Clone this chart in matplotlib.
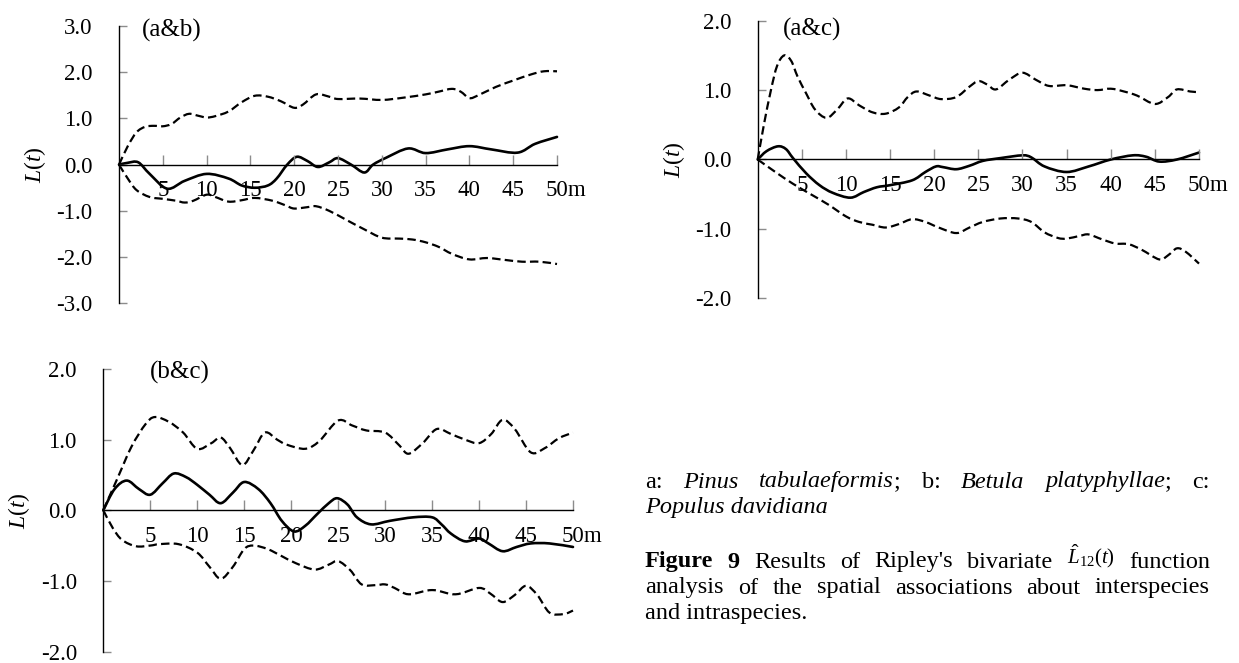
import matplotlib
matplotlib.use("Agg")
import matplotlib.pyplot as plt
from matplotlib.path import Path
from matplotlib.patches import PathPatch

plt.rcParams["font.family"] = "Liberation Serif"
plt.rcParams["mathtext.fontset"] = "custom"
plt.rcParams["mathtext.rm"] = "Liberation Serif"
plt.rcParams["mathtext.it"] = "Liberation Serif:italic"
plt.rcParams["mathtext.bf"] = "Liberation Serif:bold"
plt.rcParams["axes.unicode_minus"] = False

# ---- data ----
# (a&b)
ab_obs_x = [0, 1, 2.2, 3.5, 5.5, 7.5, 10, 12.5, 14, 15.5, 17, 18, 19.2, 20.3, 21.5, 22.7, 24, 25, 26.5, 28, 29, 30.5, 33, 35, 37.5, 40, 42.5, 45.5, 47.5, 50]
ab_obs_y = [0, 0.04, 0.05, -0.2, -0.52, -0.35, -0.2, -0.3, -0.45, -0.5, -0.45, -0.3, 0.0, 0.17, 0.08, -0.05, 0.05, 0.14, 0.0, -0.17, 0.0, 0.15, 0.35, 0.25, 0.33, 0.4, 0.33, 0.26, 0.45, 0.6]
ab_up_x = [0, 1, 2, 3, 4, 5, 6, 7, 8, 9, 10, 11, 12.5, 14, 15.5, 17, 18.5, 20, 21, 22.5, 24, 25, 27.5, 30, 32.5, 35, 36.5, 38, 39, 40, 41, 43, 45, 47, 48.5, 50]
ab_up_y = [0, 0.4, 0.7, 0.82, 0.84, 0.83, 0.88, 1.02, 1.1, 1.06, 1.02, 1.05, 1.15, 1.35, 1.49, 1.47, 1.37, 1.23, 1.3, 1.52, 1.47, 1.42, 1.43, 1.4, 1.45, 1.52, 1.58, 1.64, 1.58, 1.44, 1.5, 1.68, 1.82, 1.95, 2.02, 2.02]
ab_lo_x = [0, 1, 2, 3.5, 5, 6.5, 7.5, 8.5, 10, 11, 12.5, 14, 15.5, 17.5, 19, 20, 21.5, 22.5, 24, 26, 28, 30, 32, 33.5, 35, 36.5, 38, 40, 42, 44, 46, 48, 50]
ab_lo_y = [0, -0.3, -0.55, -0.7, -0.74, -0.78, -0.82, -0.78, -0.65, -0.7, -0.8, -0.77, -0.72, -0.78, -0.88, -0.95, -0.92, -0.9, -1.0, -1.2, -1.4, -1.58, -1.6, -1.62, -1.68, -1.78, -1.93, -2.05, -2.02, -2.06, -2.1, -2.1, -2.15]

# (a&c)
ac_obs_x = [0, 1, 2.3, 3.2, 4, 5.5, 7, 8.5, 10.5, 12, 13.5, 15, 17.5, 19, 20.2, 21, 22.5, 24, 25.5, 27.5, 30, 31, 32.5, 35, 37.5, 40, 42.5, 44, 45.5, 47.5, 50]
ac_obs_y = [0, 0.12, 0.19, 0.15, 0.02, -0.2, -0.37, -0.48, -0.55, -0.47, -0.4, -0.37, -0.3, -0.18, -0.1, -0.11, -0.14, -0.09, -0.02, 0.02, 0.06, 0.03, -0.1, -0.18, -0.1, 0.0, 0.06, 0.04, -0.03, 0.0, 0.1]
ac_up_x = [0, 0.7, 1.5, 2.2, 3, 3.8, 4.5, 5.5, 6.5, 7.8, 9, 10.2, 11.5, 13, 14.5, 16, 17, 18, 19.5, 20.8, 22.5, 24, 25, 26, 27, 28.5, 30, 31.5, 33, 35, 37, 38.5, 40, 41.5, 43, 45, 46.5, 47.5, 49, 50]
ac_up_y = [0, 0.5, 1.0, 1.35, 1.5, 1.42, 1.2, 0.95, 0.72, 0.6, 0.72, 0.88, 0.78, 0.68, 0.66, 0.75, 0.9, 0.98, 0.92, 0.87, 0.9, 1.05, 1.13, 1.08, 1.01, 1.15, 1.25, 1.15, 1.06, 1.07, 1.02, 1.0, 1.02, 0.98, 0.92, 0.8, 0.9, 1.01, 0.98, 0.97]
ac_lo_x = [0, 2, 4, 6, 8, 10, 11.5, 13, 14.5, 16, 17.5, 19, 20.5, 22.5, 24, 25.5, 27.5, 29.5, 31, 32.5, 34, 35, 36.5, 37.5, 39, 40.5, 42, 43.5, 45.5, 46.5, 47.5, 48.5, 50]
ac_lo_y = [0, -0.18, -0.35, -0.5, -0.65, -0.82, -0.9, -0.94, -0.98, -0.93, -0.86, -0.9, -0.98, -1.06, -0.98, -0.9, -0.85, -0.85, -0.9, -1.05, -1.13, -1.14, -1.1, -1.08, -1.15, -1.21, -1.22, -1.3, -1.44, -1.38, -1.28, -1.33, -1.5]

# (b&c)
bc_obs_x = [0, 1.2, 2.5, 3.8, 5, 6.3, 7.5, 8.8, 10, 11.3, 12.5, 13.8, 15, 16.5, 17.8, 19, 20.3, 21.5, 22.8, 24, 24.9, 26, 27, 28.5, 30.5, 33, 35, 36, 37, 38.5, 40, 41, 42.5, 44, 45.5, 47.5, 50]
bc_obs_y = [0, 0.3, 0.42, 0.3, 0.22, 0.38, 0.52, 0.47, 0.36, 0.22, 0.1, 0.25, 0.4, 0.3, 0.1, -0.15, -0.3, -0.22, -0.05, 0.1, 0.17, 0.08, -0.1, -0.2, -0.15, -0.1, -0.1, -0.2, -0.33, -0.44, -0.4, -0.47, -0.58, -0.52, -0.47, -0.47, -0.52]
bc_up_x = [0, 1.5, 3, 4.5, 5.5, 7, 8.5, 10, 11.5, 12.5, 13.5, 14.8, 16, 17.2, 18.5, 19.5, 21.5, 23, 25, 26.5, 28, 30, 31.5, 32.5, 34, 35.5, 37, 38.5, 40, 41.3, 42.5, 43.8, 45.5, 47, 48.5, 50]
bc_up_y = [0, 0.45, 0.9, 1.22, 1.32, 1.25, 1.1, 0.87, 0.95, 1.03, 0.88, 0.64, 0.85, 1.1, 1.0, 0.93, 0.87, 0.98, 1.27, 1.2, 1.13, 1.1, 0.92, 0.8, 0.95, 1.15, 1.08, 1.0, 0.95, 1.08, 1.28, 1.15, 0.82, 0.88, 1.02, 1.1]
bc_lo_x = [0, 1, 2, 3.5, 5, 6, 8, 10, 11.3, 12.5, 13.8, 15, 16, 17.5, 19, 20.5, 22.5, 24, 25, 26.3, 27.5, 29, 30, 31, 32.5, 35, 37.5, 40, 41.2, 42.5, 43.8, 45, 46.2, 47.5, 49, 50]
bc_lo_y = [0, -0.25, -0.42, -0.51, -0.5, -0.48, -0.48, -0.6, -0.8, -0.97, -0.8, -0.55, -0.5, -0.55, -0.65, -0.75, -0.84, -0.77, -0.72, -0.85, -1.05, -1.06, -1.05, -1.1, -1.19, -1.13, -1.19, -1.1, -1.18, -1.3, -1.2, -1.07, -1.2, -1.45, -1.47, -1.42]

x_ticks = [5, 10, 15, 20, 25, 30, 35, 40, 45, 50]

W, H = 1239, 663
fig = plt.figure(figsize=(W / 100, H / 100), dpi=100)


def px_rect(left, top, right, bottom):
    return [left / W, 1 - bottom / H, (right - left) / W, (bottom - top) / H]


def smooth(xs, ys):
    # smoothed line through the read points (like the spreadsheet's "smoothed line")
    pts = list(zip(xs, ys))
    n = len(pts)
    verts, codes = [pts[0]], [Path.MOVETO]
    for i in range(n - 1):
        p0 = pts[max(i - 1, 0)]
        p1, p2 = pts[i], pts[i + 1]
        p3 = pts[min(i + 2, n - 1)]
        c1 = (p1[0] + (p2[0] - p0[0]) / 6, p1[1] + (p2[1] - p0[1]) / 6)
        c2 = (p2[0] - (p3[0] - p1[0]) / 6, p2[1] - (p3[1] - p1[1]) / 6)
        verts += [c1, c2, p2]
        codes += [Path.CURVE4] * 3
    return Path(verts, codes)


def panel(rect, lim, yticks, series, tag, tag_px):
    ax = fig.add_axes(rect)
    ax.set_xlim(0, 50)
    ax.set_ylim(-lim, lim)
    ax.spines["top"].set_visible(False)
    ax.spines["right"].set_visible(False)
    ax.spines["bottom"].set_position(("data", 0))
    ax.spines["left"].set_linewidth(1.0)
    ax.spines["bottom"].set_linewidth(1.0)
    ax.set_xticks(x_ticks)
    ax.set_yticks(yticks)
    ax.yaxis.set_major_formatter("{x:.1f}")
    ax.tick_params(axis="y", direction="in", length=6, width=1, color="#8c8c8c", pad=19, labelsize=16.5)
    ax.tick_params(axis="x", direction="in", length=7, width=1, color="#8c8c8c", pad=11, labelsize=16.5)
    ax.annotate("m", xy=(50, 0), xytext=(7.5, -11), textcoords="offset points",
                ha="left", va="top", fontsize=16.5)
    (ox, oy), (ux, uy), (lx, ly) = series
    for xs, ys in ((ux, uy), (lx, ly)):
        ax.add_patch(PathPatch(smooth(xs, ys), fill=False, edgecolor="black", lw=1.6,
                               ls=(0, (3.8, 1.9)), clip_on=False))
    ax.add_patch(PathPatch(smooth(ox, oy), fill=False, edgecolor="black", lw=1.9,
                           joinstyle="round", capstyle="round", clip_on=False))
    bbox = ax.get_position()
    ax.text(-84 / (bbox.width * W), 0.5, "$L(t)$", transform=ax.transAxes,
            rotation=90, ha="center", va="center", fontsize=17)
    fig.text(tag_px[0] / W, 1 - tag_px[1] / H, tag, ha="left", va="center", fontsize=18)
    return ax


panel(px_rect(119, 26, 557, 303.3), 3, [-3, -2, -1, 0, 1, 2, 3],
      [(ab_obs_x, ab_obs_y), (ab_up_x, ab_up_y), (ab_lo_x, ab_lo_y)], "(a&b)", (142, 30))
panel(px_rect(757.7, 20.7, 1199, 298.3), 2, [-2, -1, 0, 1, 2],
      [(ac_obs_x, ac_obs_y), (ac_up_x, ac_up_y), (ac_lo_x, ac_lo_y)], "(a&c)", (783, 29))
panel(px_rect(103.3, 369, 573, 651.5), 2, [-2, -1, 0, 1, 2],
      [(bc_obs_x, bc_obs_y), (bc_up_x, bc_up_y), (bc_lo_x, bc_lo_y)], "(b&c)", (150, 372))

# ---- caption, justified like the source page ----
renderer = fig.canvas.get_renderer()
CAP_SIZE = 17.5
X0, X1 = 645, 1210


def style_kw(s):
    if s == "i":
        return {"style": "italic"}
    if s == "b":
        return {"weight": "bold"}
    return {}


def caption_line(y, words, justify=True):
    placed = []
    for word in words:
        segs = []
        for text, s, size, dy in word:
            t = fig.text(0, 1 - (y - dy) / H, text, fontsize=size, va="center", ha="left", **style_kw(s))
            segs.append((t, t.get_window_extent(renderer).width))
        placed.append(segs)
    widths = [sum(w for _, w in segs) for segs in placed]
    if justify and len(placed) > 1:
        gap = (X1 - X0 - sum(widths)) / (len(placed) - 1)
    else:
        gap = CAP_SIZE * 100 / 72 * 0.25
    x = X0
    for segs, wsum in zip(placed, widths):
        xx = x
        for t, w in segs:
            t.set_x(xx / W)
            xx += w
        x += wsum + gap


def w(*segs):
    return [(t, s, CAP_SIZE, 0) for t, s in segs]


caption_line(482, [w(("a:", "n")), w(("Pinus", "i")), w(("tabulaeformis", "i"), (";", "n")),
                   w(("b:", "n")), w(("Betula", "i")), w(("platyphyllae", "i"), (";", "n")), w(("c:", "n"))])
caption_line(508, [w(("Populus davidiana", "i"))], justify=False)
caption_line(562, [w(("Figure", "b")), w(("9", "b")), w(("Results", "n")), w(("of", "n")), w(("Ripley's", "n")),
                   w(("bivariate", "n")), [(r"$\hat{L}_{12}(t)$", "n", 15, 6)], w(("function", "n"))])
caption_line(588, [w((t, "n")) for t in "analysis of the spatial associations about interspecies".split()])
caption_line(614, [w(("and intraspecies.", "n"))], justify=False)

fig.savefig("out.png", dpi=100)
